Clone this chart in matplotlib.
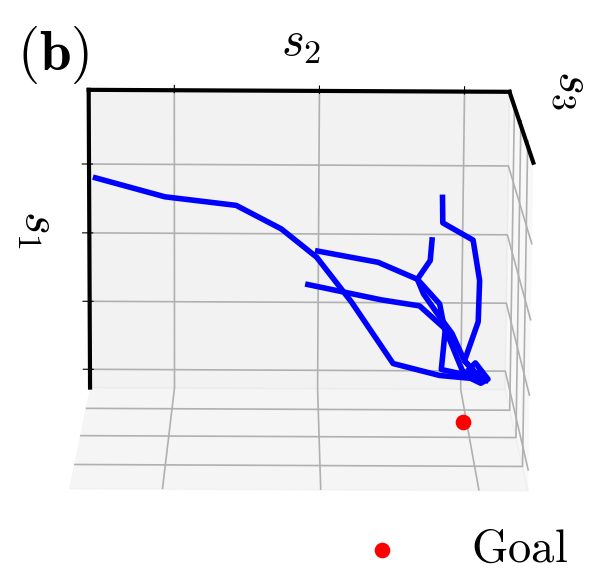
import matplotlib
matplotlib.use("Agg")
import matplotlib.pyplot as plt

plt.rcParams['mathtext.fontset'] = 'cm'
plt.rcParams['font.family'] = ['DejaVu Serif']
plt.rcParams['grid.linewidth'] = 1.2

# trajectories: s2, s1 values; s3 depth
t1_s2 = [-1.545, -1.066, -0.572, -0.258, -0.012, 0.231, 0.526, 0.851, 1.083, 1.174]
t1_s1 = [2.80, 2.53, 2.41, 2.07, 1.66, 1.01, 0.105, -0.068, -0.111, -0.14]
t2_s2 = [-0.005, 0.415, 0.689, 0.733, 0.811, 0.935, 1.024, 1.132]
t2_s1 = [1.75, 1.59, 1.345, 1.13, 0.90, 0.55, 0.15, -0.10]
t3_s2 = [0.857, 0.861, 1.073, 1.122, 1.116, 1.024, 1.153]
t3_s1 = [2.54, 2.17, 1.92, 1.33, 0.725, 0.15, -0.14]
t4_s2 = [0.788, 0.777, 0.689, 0.846, 0.886, 0.863, 1.132]
t4_s1 = [1.92, 1.62, 1.345, 0.985, 0.58, 0.02, -0.10]
t5_s2 = [-0.072, 0.441, 0.706, 0.886, 1.011, 1.153]
t5_s1 = [1.26, 1.04, 0.955, 0.62, 0.0, -0.14]
t6_s2 = [1.06, 1.10, 1.19, 1.14, 1.08, 1.12, 1.16]
t6_s1 = [0.03, 0.12, -0.12, -0.18, -0.12, -0.02, -0.08]
trajectories = [(t1_s2, t1_s1), (t2_s2, t2_s1), (t3_s2, t3_s1),
                (t4_s2, t4_s1), (t5_s2, t5_s1), (t6_s2, t6_s1)]
traj_s3 = 1.8
goal_s2, goal_s3, goal_s1 = [0.975], [0.55], [-0.27]

s2_ticks = [-1, 0, 1]
s3_ticks = [-1, 0, 1]
s1_ticks = [0, 1, 2, 3]
s2_lim = (-1.59, 1.31)
s3_lim = (-1.8, 1.8)
s1_lim = (-0.27, 4.07)

fig = plt.figure(figsize=(5.98, 5.81), dpi=100)
ax = fig.add_axes([-8/598, 1/581, 1, 1], projection='3d')
ax.set_box_aspect((4, 4, 2.9), zoom=1.166)
ax.set_proj_type('persp', focal_length=1.35)
ax.view_init(elev=11.3, azim=-90.2, roll=-0.3)
ax.set_xlim(*s2_lim)
ax.set_ylim(*s3_lim)
ax.set_zlim(*s1_lim)
ax.set_xticks(s2_ticks)
ax.set_yticks(s3_ticks)
ax.set_zticks(s1_ticks)
ax.set_xticklabels([])
ax.set_yticklabels([])
ax.set_zticklabels([])
ax.xaxis.set_ticks_position('upper')
ax.yaxis.set_ticks_position('upper')
for a in (ax.xaxis, ax.yaxis, ax.zaxis):
    a.line.set_color('black')
    a.line.set_linewidth(3)

for xs, zs in trajectories:
    ax.plot(xs, [traj_s3] * len(xs), zs, color='blue', lw=4)
ax.scatter(goal_s2, goal_s3, goal_s1, color='red', s=105, depthshade=False, label=r'$\mathrm{Goal}$')

leg = ax.legend(loc='lower right', bbox_to_anchor=(0.988, -14/581), bbox_transform=fig.transFigure,
                frameon=False, fontsize=33.5, handletextpad=0.9, borderpad=0, labelspacing=0)

fig.text(53/598, 1-55/581, r'$\mathbf{(b)}$', fontsize=41, ha='center', va='center')
fig.text(301/598, 1-43/581, r'$s_2$', fontsize=35, ha='center', va='center')
fig.text(38/598, 1-229/581, r'$s_1$', fontsize=35, rotation=-90, ha='center', va='center')
fig.text(574/598, 1-90/581, r'$s_3$', fontsize=35, rotation=-90, ha='center', va='center')
fig.savefig('out.png', dpi=100)
